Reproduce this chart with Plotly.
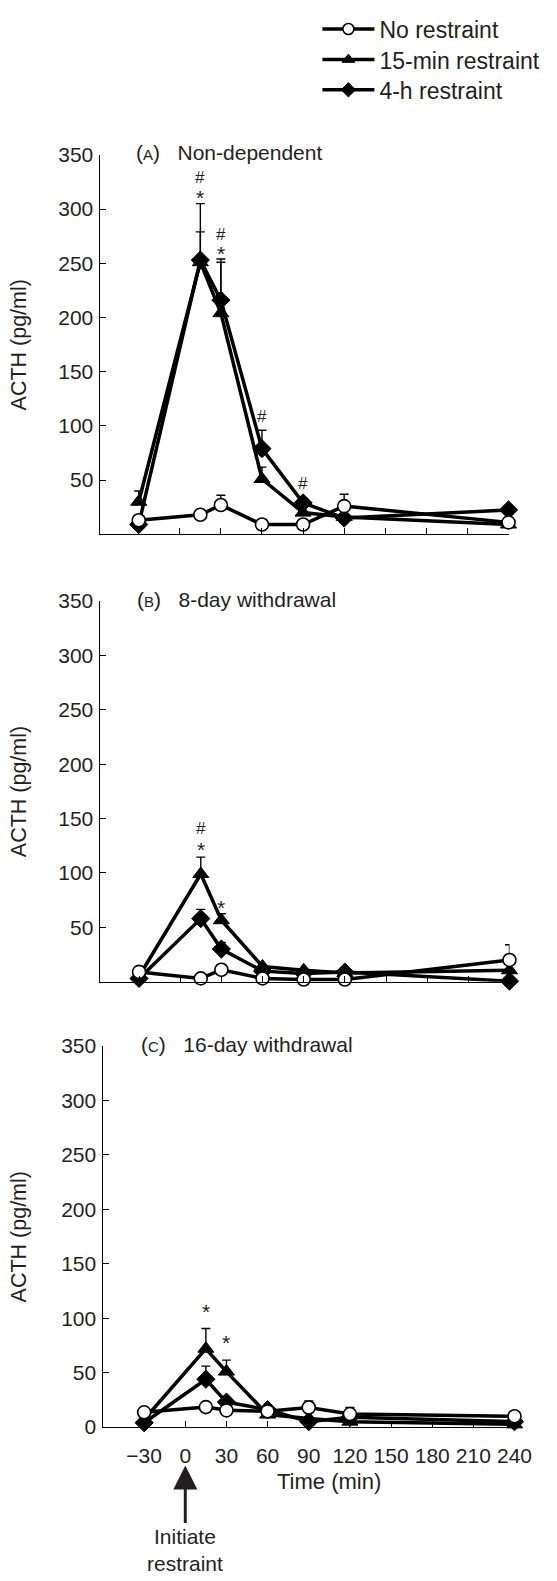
import plotly.graph_objects as go

W, H = 557, 1581
FONT = "Liberation Sans, Arial, Helvetica, sans-serif"

# ---------------- data ----------------
times = [-30, 15, 30, 60, 90, 120, 240]
series_names = ["No restraint", "15-min restraint", "4-h restraint"]

# Panel A: Non-dependent
no_A = [13, 18, 27, 9, 9, 26, 11]
no_A_err = [0, 0, 9, 0, 0, 11, 0]
m15_A = [30, 251, 204, 51, 20, 16, 9]
m15_A_err = [10, 54, 47, 11, 0, 0, 0]
h4_A = [9, 253, 216, 79, 29, 15, 22.5]
h4_A_err = [0, 26, 38, 17, 4, 0, 0]

# Panel B: 8-day withdrawal
no_B = [9, 3, 11, 3, 2, 2, 20]
no_B_err = [0, 0, 0, 0, 0, 0, 14]
m15_B = [5, 99, 56.5, 14, 10.5, 8, 10.5]
m15_B_err = [0, 15.5, 6, 0, 0, 0, 0]
h4_B = [3, 58, 30, 9.7, 7.5, 8.8, 0.5]
h4_B_err = [0, 8.5, 6, 0, 0, 0, 0]

# Panel C: 16-day withdrawal
no_C = [13.6, 18.4, 15.4, 14.5, 18, 12, 10]
no_C_err = [0, 0, 0, 0, 6, 6, 0]
m15_C = [7, 72, 51, 11.5, 8, 5, 2.5]
m15_C_err = [0, 18.6, 10.5, 0, 0, 0, 0]
h4_C = [4, 44, 23, 16, 5, 9, 5]
h4_C_err = [0, 12, 3.6, 3, 0, 0, 0]

panel_titles = ["A", "B", "C"]
panel_subtitles = ["Non-dependent", "8-day withdrawal", "16-day withdrawal"]

# significance marks
sig_panel = [0, 0, 0, 0, 0, 0, 1, 1, 1, 2, 2]
sig_x = [15, 15, 30, 30, 60, 90, 15, 15, 30, 15, 30]
sig_y = [329, 315, 277, 263.5, 109, 47, 141, 126, 73, 111, 82.5]
sig_text = ["#", "*", "#", "*", "#", "#", "#", "*", "*", "*", "*"]

x_tickvals = [-30, 0, 30, 60, 90, 120, 150, 180, 210, 240]
x_ticktext = ["\u221230", "0", "30", "60", "90", "120", "150", "180", "210", "240"]
y_tickvals_top = [50, 100, 150, 200, 250, 300, 350]
y_tickvals_bottom = [0, 50, 100, 150, 200, 250, 300, 350]

# ---------------- layout geometry (pixels) ----------------
panels_px = [
    dict(x0=103, x1=525.5, xr=[-58.5, 240], ytop=145, ybot=530),
    dict(x0=103, x1=526.5, xr=[-58.7, 240], ytop=597.7, ybot=984),
    dict(x0=106, x1=531.7, xr=[-60.3, 240], ytop=1049.3, ybot=1436),
]
legend_rows_px = [17.3, 48.3, 79]

def px_x(p):
    return p / W

def px_y(p):
    return 1 - p / H

fig = go.Figure()

data = [
    (no_A, no_A_err, m15_A, m15_A_err, h4_A, h4_A_err),
    (no_B, no_B_err, m15_B, m15_B_err, h4_B, h4_B_err),
    (no_C, no_C_err, m15_C, m15_C_err, h4_C, h4_C_err),
]

marker_styles = [
    dict(symbol="circle", size=13, color="white", line=dict(color="black", width=1.6)),
    dict(symbol="triangle-up", size=14, color="black", line=dict(color="black", width=1)),
    dict(symbol="diamond", size=14, color="black", line=dict(color="black", width=1)),
]

for i, d in enumerate(data):
    xa = "x" if i == 0 else f"x{i+1}"
    ya = "y" if i == 0 else f"y{i+1}"
    vals = [(d[0], d[1]), (d[2], d[3]), (d[4], d[5])]
    for k in [1, 2, 0]:
        v, e = vals[k]
        fig.add_trace(go.Scatter(
            x=times, y=v, mode="lines+markers", name=series_names[k],
            xaxis=xa, yaxis=ya,
            line=dict(color="black", width=3.5),
            marker=marker_styles[k],
            error_y=dict(type="data", symmetric=False, array=e,
                         arrayminus=[0] * len(e), color="black",
                         thickness=1.4, width=4.5),
            cliponaxis=False,
            showlegend=False,
        ))

legend_ids = ["legend", "legend2", "legend3"]
for k in range(3):
    fig.add_trace(go.Scatter(
        x=[None], y=[None], mode="lines+markers", name=series_names[k],
        line=dict(color="black", width=3.5),
        marker=dict(marker_styles[k], size=11),
        showlegend=True, legend=legend_ids[k],
    ))

layout = dict(
    width=W, height=H,
    margin=dict(l=0, r=0, t=0, b=0),
    paper_bgcolor="white", plot_bgcolor="white",
    font=dict(family=FONT, color="#231f20", size=21),
    showlegend=True,
)
for k in range(3):
    layout[legend_ids[k]] = dict(
        x=px_x(328), y=px_y(legend_rows_px[k]), xanchor="left", yanchor="middle",
        font=dict(size=23, family=FONT, color="#231f20"),
        bgcolor="rgba(0,0,0,0)", itemwidth=52,
    )

annotations = []
for i, p in enumerate(panels_px):
    sx = "" if i == 0 else str(i + 1)
    layout["xaxis" + sx] = dict(
        domain=[px_x(p["x0"]), px_x(p["x1"])], range=p["xr"],
        anchor="y" + sx, showline=True, linecolor="black", linewidth=1.3,
        ticks="inside", ticklen=6, tickwidth=1.3, tickcolor="black",
        tickvals=x_tickvals, ticktext=x_ticktext,
        showticklabels=(i == 2), showgrid=False, zeroline=False,
        tickfont=dict(size=21), ticklabelstandoff=10,
    )
    layout["yaxis" + sx] = dict(
        domain=[px_y(p["ybot"]), px_y(p["ytop"])], range=[0, 350],
        anchor="x" + sx, showline=True, linecolor="black", linewidth=1.3,
        ticks="inside", ticklen=6, tickwidth=1.3, tickcolor="black",
        tickvals=(y_tickvals_bottom if i == 2 else y_tickvals_top),
        showgrid=False, zeroline=False, tickfont=dict(size=21),
        ticklabelstandoff=1,
    )
    annotations.append(dict(
        xref="paper", yref="paper",
        x=px_x([138.3, 140, 143.3][i]), y=px_y(p["ytop"] - 2),
        xanchor="left", yanchor="middle", showarrow=False,
        text="(<span style='font-size:15px'>" + panel_titles[i] + "</span>)\u00a0\u00a0\u00a0" + panel_subtitles[i],
        font=dict(size=21),
    ))
    annotations.append(dict(
        xref="paper", yref="paper",
        x=px_x(19.5), y=px_y((p["ytop"] + p["ybot"]) / 2),
        xanchor="center", yanchor="middle", showarrow=False,
        textangle=-90, text="ACTH (pg/ml)", font=dict(size=21.5),
    ))

for pi, sx_, sy_, st in zip(sig_panel, sig_x, sig_y, sig_text):
    sx = "" if pi == 0 else str(pi + 1)
    annotations.append(dict(
        xref="x" + sx, yref="y" + sx, x=sx_, y=sy_, text=st,
        showarrow=False, xanchor="center", yanchor="middle",
        font=dict(size=21 if st == "*" else 17, color="#231f20"),
        yshift=-5 if st == "*" else 0,
    ))

annotations.append(dict(
    xref="paper", yref="paper", x=px_x(340), y=px_y(1490.7),
    text="Time (min)", showarrow=False, xanchor="center", yanchor="middle",
    font=dict(size=22),
))
annotations.append(dict(
    xref="x3", yref="paper", x=0, y=px_y(1475),
    text="Initiate<br>restraint", showarrow=True,
    arrowhead=2, arrowsize=1.6, arrowwidth=3, arrowcolor="#231f20",
    ax=0, ay=84, font=dict(size=21), standoff=0,
))
layout["annotations"] = annotations

fig.update_layout(**layout)
fig.write_html("out.html")
